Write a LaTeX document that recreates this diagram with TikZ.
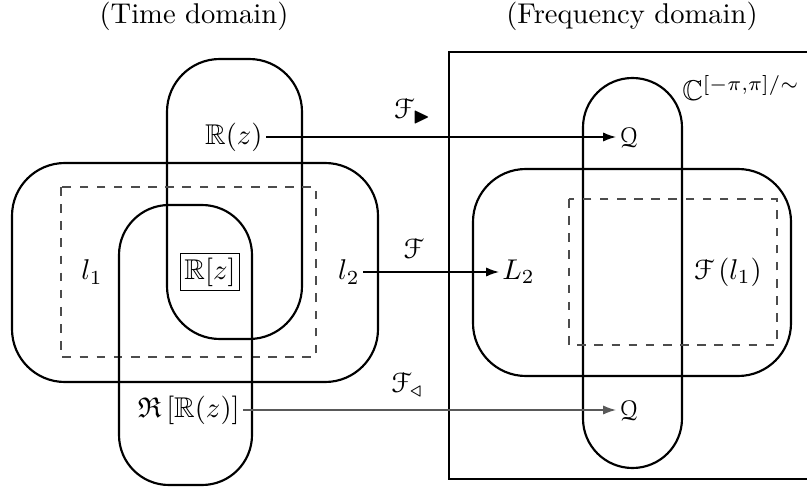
\documentclass[tikz,border=0pt]{standalone}
\usepackage{amssymb}
\usepackage[mathcal]{eucal}
\usetikzlibrary{arrows.meta}
\begin{document}
\begin{tikzpicture}[x=0.35pt,y=-0.35pt,
  region/.style={draw,line width=0.75pt},
  dashbox/.style={draw=black!70,dashed,line width=0.45pt},
  conn/.style={draw,line width=0.45pt,-{Latex[length=4.5pt,width=3.2pt]}},
  lbl/.style={inner sep=1pt}]
\useasboundingbox (0,0) rectangle (807,491);
\begin{scope}
\clip (0,0) rectangle (807,491);
% frame
\draw[line width=0.5pt] (449,52) rectangle (830,479);
\end{scope}
% titles
\node (tt) at (194,16) {(Time domain)};
\node (ft) at (632,16) {(Frequency domain)};
% left regions
\draw[region,rounded corners=18.5pt] (167,59) rectangle (302,339);
\draw[region,rounded corners=18.5pt] (12,163) rectangle (378,382);
\draw[dashbox] (61,187) rectangle (316,357);
\draw[region,rounded corners=17.5pt] (119,205) rectangle (252,485);
% right regions
\draw[region,rounded corners=17.3pt] (583,78) rectangle (682,468);
\draw[region,rounded corners=18.5pt] (473,169) rectangle (791,376);
\draw[dashbox] (569,199) rectangle (777,345);
% labels
\node[lbl,anchor=east] (rz) at (266,137) {$\mathbb{R}(z)$};
\node[draw,line width=0.4pt,inner sep=1.5pt] (rzz) at (210,272) {$\mathbb{R}[z]$};
\node[lbl] (l1) at (92,272) {$l_1$};
\node[lbl,anchor=east] (l2) at (363,272) {$l_2$};
\node[lbl,anchor=east] (re) at (243,410) {$\mathfrak{R}\left[\mathbb{R}(z)\right]$};
\node[lbl,anchor=west] (q1) at (616,137) {$\mathcal{Q}$};
\node[lbl,anchor=west] (L2) at (499,272) {$L_2$};
\node[lbl,anchor=west] (q2) at (616,410) {$\mathcal{Q}$};
\node[lbl] (fl1) at (728,272) {$\mathcal{F}\left(l_1\right)$};
\node[lbl] (cc) at (741,88) {$\mathbb{C}^{[-\pi,\pi]/\sim}$};
% connectors
\draw[conn] (rz.east) -- (q1.west) node[pos=0.42,above=1pt] (f1) {$\mathcal{F}_{\blacktriangleright}$};
\draw[conn] (l2.east) -- (L2.west) node[pos=0.37,above=1pt] (f2) {$\mathcal{F}$};
\draw[conn,draw=black!65] (re.east) -- (q2.west) node[pos=0.44,above=1pt] (f3) {$\mathcal{F}_{\triangleleft}$};
\end{tikzpicture}
\end{document}
